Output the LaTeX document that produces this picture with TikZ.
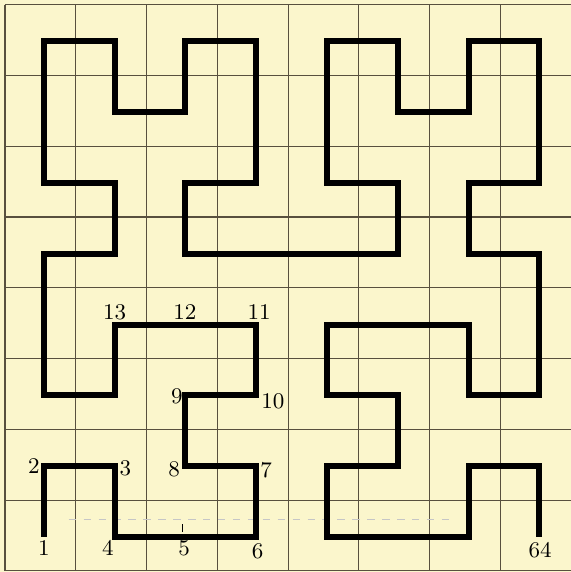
\documentclass[tikz,border=0pt]{standalone}
\usepackage{tikz}
\usetikzlibrary{calc}
\definecolor{paper}{RGB}{251,246,204}
\definecolor{rulecol}{RGB}{88,80,62}

\begin{document}
\begin{tikzpicture}[font=\small,
  curve/.style={line width=2.4pt,line join=miter,line cap=butt},
  num/.style={inner sep=0pt}]
 \fill[paper] (-0.07,-0.015) rectangle (7.995,8.065);
 \useasboundingbox (-0.07,-0.015) rectangle (7.995,8.065);
 \begin{scope}
  \clip (-0.07,-0.015) rectangle (7.995,8.065);
  \draw[rulecol,line width=0.45pt] (0,0) grid (8,8);
 \end{scope}
 % faint printing marks
 \draw[gray!45,dashed,line width=0.4pt] (0.9,0.73) -- (6.3,0.73);
 \draw[black,line width=0.4pt] (2.51,0.55) -- (2.51,0.67);
 % the curve through the 64 cells, from 1 to 64
 \begin{scope}[shift={(0.55,0.48)}]
  \draw[curve] (0,0) -- (0,1) -- (1,1) -- (1,0) -- (2,0) -- (3,0) -- (3,1) -- (2,1)
   -- (2,2) -- (3,2) -- (3,3) -- (2,3) -- (1,3) -- (1,2) -- (0,2) -- (0,3)
   -- (0,4) -- (1,4) -- (1,5) -- (0,5) -- (0,6) -- (0,7) -- (1,7) -- (1,6)
   -- (2,6) -- (2,7) -- (3,7) -- (3,6) -- (3,5) -- (2,5) -- (2,4) -- (3,4)
   -- (4,4) -- (5,4) -- (5,5) -- (4,5) -- (4,6) -- (4,7) -- (5,7) -- (5,6)
   -- (6,6) -- (6,7) -- (7,7) -- (7,6) -- (7,5) -- (6,5) -- (6,4) -- (7,4)
   -- (7,3) -- (7,2) -- (6,2) -- (6,3) -- (5,3) -- (4,3) -- (4,2) -- (5,2)
   -- (5,1) -- (4,1) -- (4,0) -- (5,0) -- (6,0) -- (6,1) -- (7,1) -- (7,0);
 \end{scope}
 \node[num] (n1) at (0.55,0.325) {1};
 \node[num] (n2) at (0.41,1.48) {2};
 \node[num] (n3) at (1.70,1.455) {3};
 \node[num] (n4) at (1.455,0.325) {4};
 \node[num] (n5) at (2.53,0.325) {5};
 \node[num] (n6) at (3.57,0.28) {6};
 \node[num] (n7) at (3.69,1.43) {7};
 \node[num] (n8) at (2.39,1.43) {8};
 \node[num] (n9) at (2.43,2.46) {9};
 \node[num] (n10) at (3.785,2.39) {10};
 \node[num] (n11) at (3.59,3.66) {11};
 \node[num] (n12) at (2.54,3.66) {12};
 \node[num] (n13) at (1.55,3.66) {13};
 \node[num] (n64) at (7.56,0.30) {64};
\end{tikzpicture}
\end{document}
